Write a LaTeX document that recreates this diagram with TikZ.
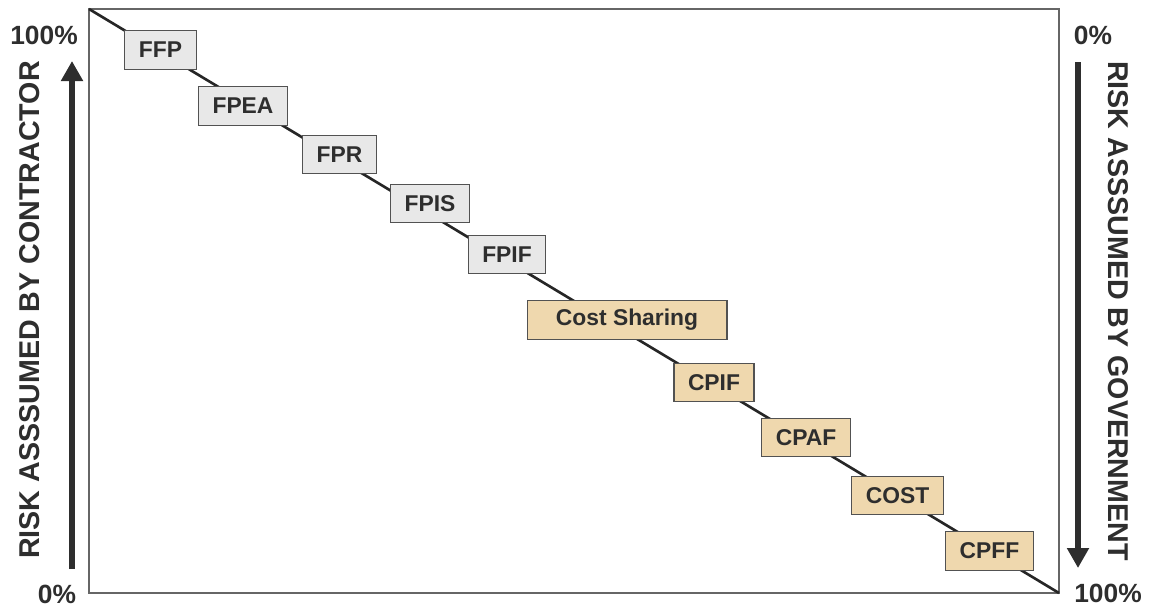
\documentclass[tikz,border=0pt]{standalone}
\usepackage{fontspec}
\setmainfont{Liberation Sans}
\usetikzlibrary{arrows.meta}
\definecolor{boxgray}{HTML}{E8E8E8}
\definecolor{boxtan}{HTML}{EFD8AE}
\definecolor{inkgray}{HTML}{2E2E2E}
\begin{document}
\begin{tikzpicture}[x=0.02cm,y=-0.02cm,
    fixed/.style={draw=black!68,fill=boxgray,rectangle,line width=0.6pt,minimum height=0.77cm,inner xsep=0.28cm,text=inkgray,font=\fontsize{13}{15}\selectfont\bfseries},
    costtype/.style={fixed,fill=boxtan},
    pct/.style={text=inkgray,font=\fontsize{15}{18}\selectfont\bfseries},
    side/.style={text=inkgray,font=\fontsize{16.3}{19}\selectfont\bfseries},
    riskarrow/.style={inkgray,line width=3.4pt,-{Triangle[width=0.42cm,length=0.4cm]}}]
    \useasboundingbox (0,0) rectangle (1151,606);

    \coordinate (tl) at (89,9);
    \coordinate (br) at (1059,593);
    \draw[black!60,line width=0.6pt] (tl) rectangle (br);
    \draw[black!85,line width=1.5pt] (tl) -- (br);

    \node[fixed] (ffp) at (160.5,50) {FFP};
    \node[fixed] (fpea) at (243,106) {FPEA};
    \node[fixed] (fpr) at (339.5,154.5) {FPR};
    \node[fixed] (fpis) at (430,203.5) {FPIS};
    \node[fixed] (fpif) at (507,254.5) {FPIF};
    \node[costtype,minimum width=4cm] (share) at (627,320) {Cost Sharing};
    \node[costtype] (cpif) at (714,382.5) {CPIF};
    \node[costtype] (cpaf) at (806,437.5) {CPAF};
    \node[costtype] (cost) at (897.5,495.5) {COST};
    \node[costtype] (cpff) at (989.5,551) {CPFF};

    \node[pct] (lhi) at (44,35) {100\%};
    \node[pct] (llo) at (57,594) {0\%};
    \node[pct] (rlo) at (1093,35) {0\%};
    \node[pct] (rhi) at (1108,593) {100\%};

    \coordinate (lbot) at (72,569);
    \coordinate (ltop) at (72,61);
    \coordinate (rtop) at (1078,62);
    \coordinate (rbot) at (1078,568);
    \draw[riskarrow] (lbot) -- (ltop);
    \draw[riskarrow] (rtop) -- (rbot);

    \node[side,rotate=90] (contractor) at (30,310) {RISK ASSSUMED BY CONTRACTOR};
    \node[side,rotate=-90] (government) at (1118,311) {RISK ASSSUMED BY GOVERNMENT};
\end{tikzpicture}
\end{document}
